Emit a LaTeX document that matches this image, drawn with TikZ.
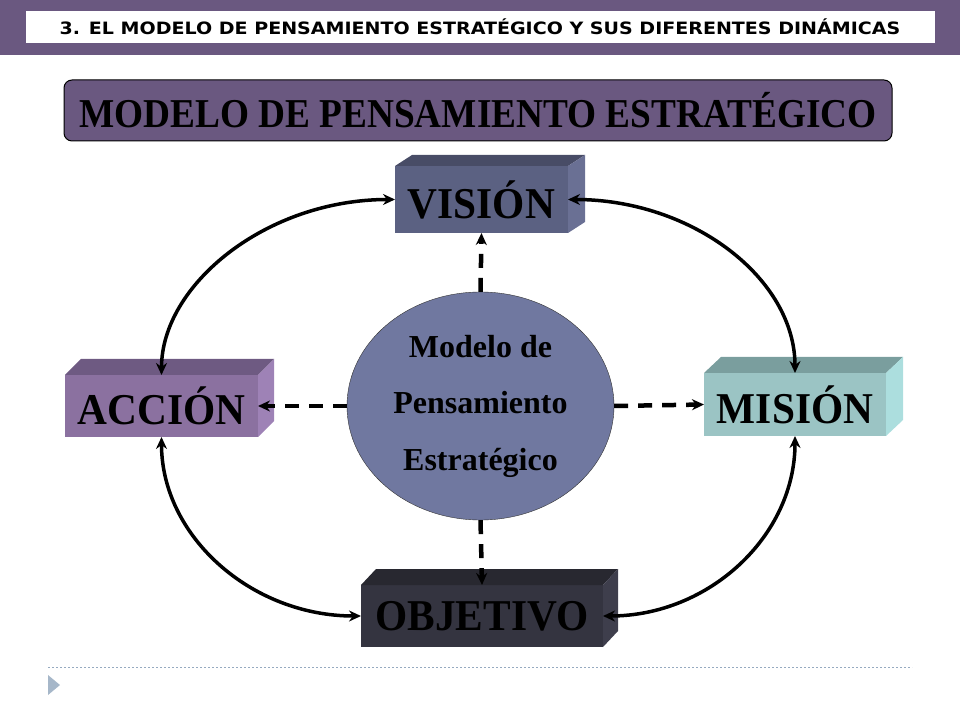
\documentclass[tikz,border=0pt]{standalone}
\usepackage{fontspec}
\setmainfont{Liberation Serif}
\newfontfamily\cabecera[FakeStretch=1.12]{DejaVu Sans}
\newfontfamily\angosta[FakeStretch=0.91]{Liberation Serif}
\newfontfamily\caja[FakeStretch=0.94]{Liberation Serif}
\usepackage{tikz}
\usetikzlibrary{shapes.geometric, arrows.meta, positioning, calc}

\definecolor{morado}{RGB}{106,88,128}
\definecolor{visionfr}{RGB}{91,97,130}
\definecolor{visiontop}{RGB}{72,76,102}
\definecolor{visionlado}{RGB}{106,112,148}
\definecolor{accionfr}{RGB}{139,113,160}
\definecolor{acciontop}{RGB}{110,90,130}
\definecolor{accionlado}{RGB}{158,130,182}
\definecolor{misionfr}{RGB}{155,196,196}
\definecolor{misiontop}{RGB}{122,158,158}
\definecolor{misionlado}{RGB}{172,222,222}
\definecolor{objetivofr}{RGB}{52,52,64}
\definecolor{objetivotop}{RGB}{40,40,48}
\definecolor{objetivolado}{RGB}{62,62,76}
\definecolor{elipse}{RGB}{112,120,160}
\definecolor{guia}{RGB}{150,170,192}

% top and side faces of a box: node, dx, dy, top, side
\newcommand{\caras}[5]{
  \fill[#4] (#1.north west) -- ++(#2,#3) -- ($(#1.north east)+(#2,#3)$) -- (#1.north east) -- cycle;
  \fill[#5] (#1.north east) -- ++(#2,#3) -- ($(#1.south east)+(#2,#3)$) -- (#1.south east) -- cycle;
}

\begin{document}
\begin{tikzpicture}[x=1pt, y=1pt,
  bloque/.style={rectangle, inner sep=0pt, outer sep=0pt, text=black,
    font=\caja\bfseries\fontsize{44}{44}\selectfont},
  flecha/.style={line width=3.5pt, {Stealth[length=12pt,width=11pt]}-{Stealth[length=12pt,width=11pt]}},
  guion/.style={line width=4.5pt, dash pattern=on 14pt off 10pt, -{Stealth[length=12pt,width=11pt]}}]
\useasboundingbox (0,0) rectangle (960,720);

% header
\fill[morado] (0,665) rectangle (960,720);
\fill[white] (26,677) rectangle (935,709);
\node[font=\cabecera\bfseries\fontsize{17}{17}\selectfont] (encabezado) at (480,693)
  {3. EL MODELO DE PENSAMIENTO ESTRATÉGICO Y SUS DIFERENTES DINÁMICAS};

\node[draw=black, line width=1pt, rounded corners=8pt, fill=morado, minimum width=828,
  minimum height=61, font=\angosta\bfseries\fontsize{41}{41}\selectfont] (titulo) at (478,609.5)
  {MODELO DE PENSAMIENTO ESTRATÉGICO};

% boxes
\node[bloque, fill=visionfr, minimum width=173, minimum height=67] (vision) at (481.5,520.5) {VISIÓN};
\caras{vision}{17}{11}{visiontop}{visionlado}
\node[bloque, fill=accionfr, minimum width=193, minimum height=62] (accion) at (161.5,314) {ACCIÓN};
\caras{accion}{16}{16}{acciontop}{accionlado}
\node[bloque, fill=misionfr, minimum width=182, minimum height=63] (mision) at (795,315.5) {MISIÓN};
\caras{mision}{17}{16}{misiontop}{misionlado}
\node[bloque, fill=objetivofr, minimum width=242, minimum height=62] (objetivo) at (482,104) {OBJETIVO};
\caras{objetivo}{15}{16}{objetivotop}{objetivolado}

\node[ellipse, draw=black!80, fill=elipse, inner sep=0pt, minimum width=267, minimum height=228,
  align=center, font=\bfseries\fontsize{32}{56.5}\selectfont] (modelo) at (480.5,314)
  {Modelo de\\Pensamiento\\Estratégico};

% cycle
\draw[flecha] (accion.north) .. controls +(0,90) and +(-129,0) .. (vision.west);
\draw[flecha] (vision.east) .. controls +(125,0) and +(0,94) .. (mision.north);
\draw[flecha] (accion.south) .. controls +(0,-99) and +(-110,0) .. (objetivo.west);
\draw[flecha] (mision.south) .. controls +(0,-100) and +(106,0) .. (objetivo.east);

% from the model
\draw[guion] (modelo.north) -- (vision.south);
\draw[guion] (modelo.west) -- (accion.east);
\draw[guion] (modelo.east) -- (mision.west);
\draw[guion] (modelo.south) -- (objetivo.north);

% footer
\draw[guia, line width=1pt, dash pattern=on 2pt off 2pt] (48,53) -- (912,53);
\fill[guia!85] (48,45) -- (60,35) -- (48,25) -- cycle;
\end{tikzpicture}
\end{document}
